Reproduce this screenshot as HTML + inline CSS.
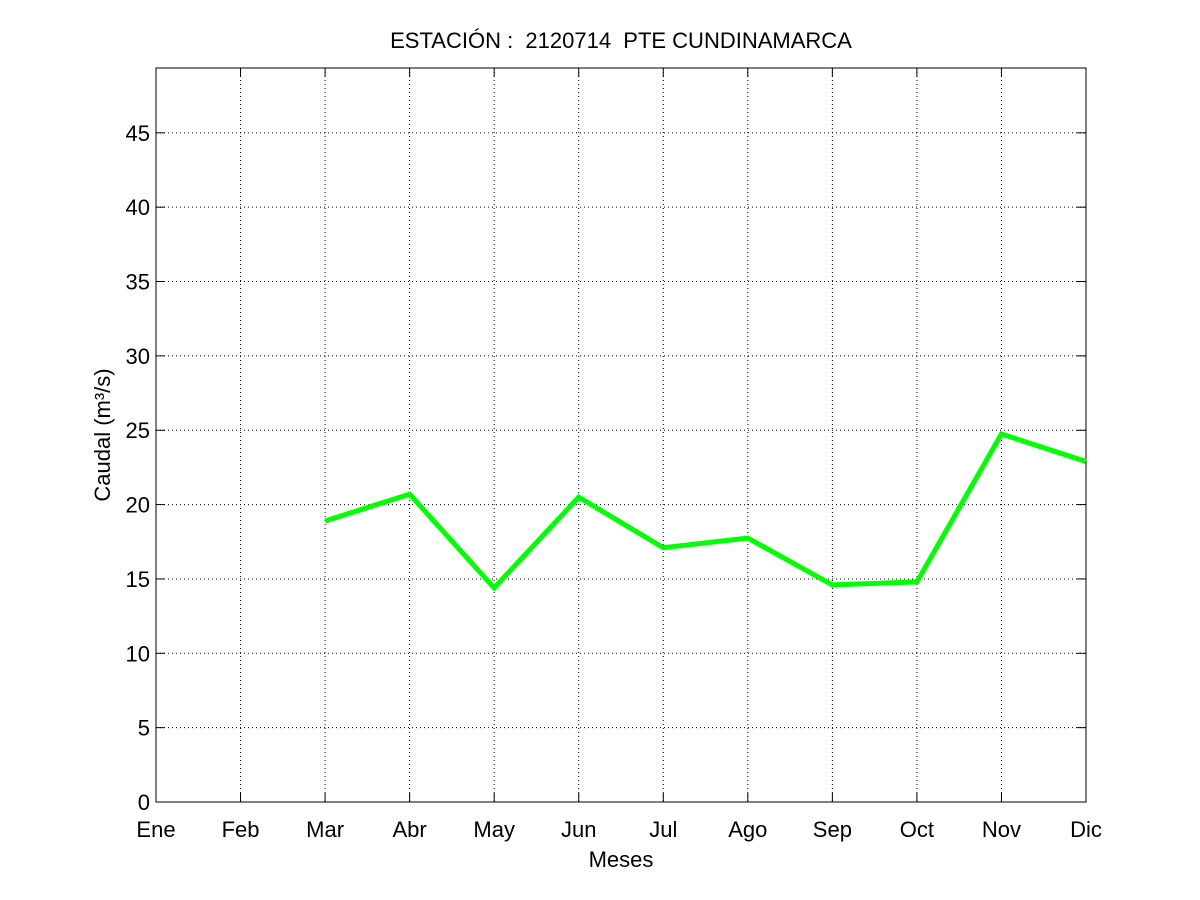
<!DOCTYPE html>
<html><head><meta charset="utf-8"><style>
html,body{margin:0;padding:0;background:#fff;}
svg{display:block;font-family:"Liberation Sans",sans-serif;}
</style></head><body>
<svg id="chart" width="1200" height="900" xmlns="http://www.w3.org/2000/svg">
<rect width="1200" height="900" fill="#fff"/>
<text x="621" y="48" font-size="22" text-anchor="middle" style="white-space:pre" xml:space="preserve">ESTACIÓN :  2120714  PTE CUNDINAMARCA</text>
<text x="621" y="867" font-size="22" text-anchor="middle">Meses</text>
<text transform="translate(110,435) rotate(-90)" font-size="22" text-anchor="middle">Caudal (m³/s)</text>
<g id="grid"></g>
<g id="axes"></g>
<g id="series"></g>
</svg>
<script>
const months = ["Ene","Feb","Mar","Abr","May","Jun","Jul","Ago","Sep","Oct","Nov","Dic"];
const flowValues = [null,null,18.9,20.7,14.4,20.5,17.1,17.75,14.6,14.8,24.75,22.9];
const yTicks = [0,5,10,15,20,25,30,35,40,45];
const yMax = 49.36;

const L=156,R=1086,T=68,B=802;
const NS="http://www.w3.org/2000/svg";
const xs=i=>L+(R-L)*i/(months.length-1);
const ys=v=>B-(B-T)*v/yMax;
function mk(tag,attrs,parent){const e=document.createElementNS(NS,tag);for(const k in attrs)e.setAttribute(k,attrs[k]);parent.appendChild(e);return e;}
const grid=document.getElementById('grid'),axes=document.getElementById('axes'),series=document.getElementById('series');

months.forEach((m,i)=>{
  const x=xs(i);
  if(i>0&&i<months.length-1){
    const g=mk('line',{x1:x,x2:x,y1:T,y2:B,stroke:'#000','stroke-width':1,'stroke-dasharray':'1,3'},grid);
    
    
  }
  const t1=mk('line',{x1:x,x2:x,y1:B,y2:B-9,stroke:'#000'},axes);
  
  
  const t2=mk('line',{x1:x,x2:x,y1:T,y2:T+9,stroke:'#000'},axes);
  
  
  const lb=mk('text',{x:x,y:837,'font-size':22,'text-anchor':'middle'},axes);
  lb.textContent=m;
  
  
});
yTicks.forEach(v=>{
  const y=ys(v);
  if(v>0){
    const g=mk('line',{x1:L,x2:R,y1:y,y2:y,stroke:'#000','stroke-width':1,'stroke-dasharray':'1,3'},grid);
    
    
  }
  const t1=mk('line',{x1:L,x2:L+9,y1:y,y2:y,stroke:'#000'},axes);
  
  
  const t2=mk('line',{x1:R,x2:R-9,y1:y,y2:y,stroke:'#000'},axes);
  
  
  const lb=mk('text',{x:L-6,y:y+8,'font-size':22,'text-anchor':'end'},axes);
  lb.textContent=v;
  
  
});
const frame=mk('rect',{x:L,y:T,width:R-L,height:B-T,fill:'none',stroke:'#000','stroke-width':1},axes);



let d='';
flowValues.forEach((v,i)=>{if(v==null)return;d+=(d?'L':'M')+xs(i)+','+ys(v);});
const path=mk('path',{d:d,fill:'none',stroke:'#00ff00','stroke-width':5,'stroke-linejoin':'miter'},series);


</script>
</body></html>
